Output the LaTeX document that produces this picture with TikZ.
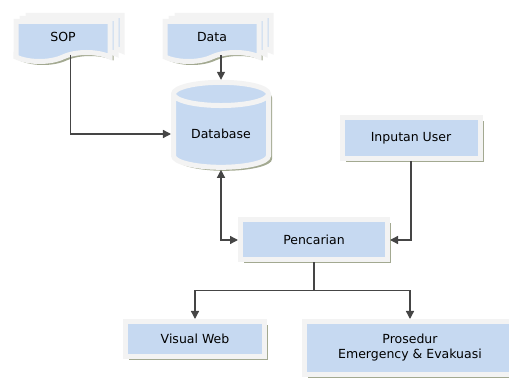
\documentclass[tikz,border=0pt]{standalone}
\usepackage{fontspec}
\setmainfont{DejaVu Sans}
\usetikzlibrary{arrows.meta,positioning,shapes.geometric,shapes.symbols,shadows}

\definecolor{isibiru}{HTML}{C6D9F1}
\definecolor{bingkai}{HTML}{F3F3F3}
\definecolor{bayang}{HTML}{A3A991}
\definecolor{garis}{HTML}{454545}

\tikzset{
    kotak/.style={rectangle, fill=isibiru, draw=bingkai, line width=5pt,
        font=\fontsize{12.5}{15}\selectfont, align=center,
        drop shadow={shadow xshift=3.5pt, shadow yshift=-3.5pt, fill=bayang, opacity=1}},
    dokumen/.style={kotak, tape, tape bend top=none, tape bend bottom=in and out,
        tape bend height=9pt, double copy shadow={shadow xshift=6pt, shadow yshift=3pt}},
    basisdata/.style={kotak, cylinder, shape border rotate=90, aspect=0.35},
    panah/.style={draw=garis, line width=1.3pt, -{Triangle[width=8pt,length=8pt]}},
    duaarah/.style={panah, {Triangle[width=8pt,length=8pt]}-{Triangle[width=8pt,length=8pt]}}
}

\begin{document}
\begin{tikzpicture}[x=1pt,y=-1pt]
            \useasboundingbox (0,0) rectangle (509,379);

            \node[dokumen, minimum width=94pt, minimum height=40pt] (sop) at (63,37) {SOP};
            \node[dokumen, minimum width=94pt, minimum height=40pt] (data) at (212,37) {Data};
            \node[basisdata, minimum width=95pt, minimum height=85pt] (db) at (221,134) {Database};
            \node[kotak, minimum width=138pt, minimum height=41pt] (ipt) at (411,138) {Inputan User};
            \node[kotak, minimum width=147pt, minimum height=40pt] (cari) at (314,240) {Pencarian};
            \node[kotak, minimum width=139pt, minimum height=35pt] (vw) at (195,339) {Visual Web};
            \node[kotak, minimum width=211pt, minimum height=53pt] (pro) at (410,348)
                {Prosedur\\Emergency \& Evakuasi};

            \coordinate (cabang) at ([yshift=-28pt]cari.south);

            \draw[panah] ([xshift=7.5pt]sop.south) |- (db.west);
            \draw[panah] (db.north |- data.south) -- (db.north);
            \draw[duaarah] (db.south) |- (cari.west);
            \draw[panah] (ipt.south) |- (cari.east);
            \draw[draw=garis, line width=1.3pt] (cari.south) -- (cabang);
            \draw[panah] (cabang) -| (vw.north);
            \draw[panah] (cabang) -| (pro.north);
\end{tikzpicture}
\end{document}
